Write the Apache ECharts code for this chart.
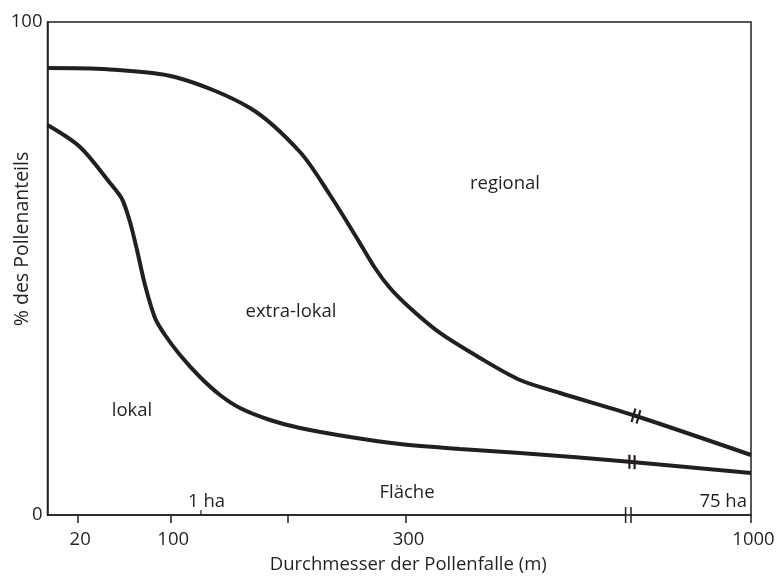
<!DOCTYPE html>
<html><head><meta charset="utf-8">
<script src="https://cdn.jsdelivr.net/npm/echarts@6/dist/echarts.min.js"></script>
<style>html,body{margin:0;padding:0;background:#fff}#c{width:783px;height:576px}</style>
</head><body><div id="c"></div>
<script>
const FONT = 'Open Sans';
const FS = 18.5;
const INK = '#231f20';
// x positions on a relative (non-linear) diameter axis; 0 = left edge
const upperX = [0, 60, 127.5, 202.5, 252.5, 282.5, 307.5, 327.5, 342.5, 362.5, 392.5, 432.5, 472.5, 512.5, 588.5, 703.5];
const upperY = [90.67, 90.4, 88.84, 82.56, 73.63, 64.91, 56.80, 50.10, 46.04, 41.99, 36.92, 31.85, 27.38, 24.75, 20.08, 12.17];
const lowerX = [0, 32.5, 62.5, 74.5, 82.5, 89.5, 97.5, 107.5, 117.5, 132.5, 152.5, 172.5, 192.5, 222.5, 252.5, 302.5, 352.5, 412.5, 472.5, 584.5, 703.5];
const lowerY = [79.1, 74.65, 67.34, 64.1, 59.43, 53.75, 46.65, 39.96, 36.51, 32.45, 27.99, 24.34, 21.70, 19.27, 17.65, 15.82, 14.40, 13.39, 12.58, 10.75, 8.52];
const xTickPos = [30.2, 123.2, 240.5, 358.5, 703.5];
const xTickLabels = ['20', '100', '', '300', '1000'];
const axisBreakX = 580.8;
const curveBreakX = [588.5, 584.5];
const curveBreakY = [20.08, 10.75];
const haTickX = 153.5;
const regionLabels = [
  {text: 'regional', x: 457.5, y: 67.2},
  {text: 'extra-lokal', x: 243.5, y: 41.2},
  {text: 'lokal', x: 84.5, y: 21.1}
];
const areaLabels = [
  {text: 'Fläche', x: 359.5, y: 4.5, align: 'center'},
  {text: '1 ha', x: 159, y: 2.7, align: 'center'},
  {text: '75 ha', x: 699.5, y: 2.6, align: 'right'}
];

const chart = echarts.init(document.getElementById('c'), null, {renderer: 'canvas'});
const toS = (xs, ys) => xs.map((x, i) => [x, ys[i]]);
const labelMap = {};
xTickPos.forEach((p, i) => labelMap[p] = xTickLabels[i]);

chart.setOption({
  animation: false,
  backgroundColor: '#fff',
  grid: {left: 47.5, right: 32, top: 22, bottom: 61, containLabel: false, outerBoundsMode: 'none',
         show: true, borderColor: INK, borderWidth: 1.5, backgroundColor: 'transparent'},
  xAxis: {
    type: 'value', min: 0, max: 703.5,
    splitLine: {show: false},
    axisLine: {lineStyle: {color: INK, width: 1.5}},
    axisTick: {show: true, length: 8, customValues: xTickPos, lineStyle: {color: INK, width: 1.5}},
    axisLabel: {customValues: xTickPos, formatter: v => labelMap[v] !== undefined ? labelMap[v] : '', margin: 15,
                padding: [0, 0, 0, 5], color: INK, fontFamily: FONT, fontSize: FS},
    name: 'Durchmesser der Pollenfalle (m)', nameLocation: 'middle', nameGap: 40,
    nameTextStyle: {color: INK, fontFamily: FONT, fontSize: FS, padding: [0, 0, 0, 18]}
  },
  yAxis: {
    type: 'value', min: 0, max: 100, interval: 100,
    splitLine: {show: false},
    axisLine: {show: true, lineStyle: {color: INK, width: 1.5}},
    axisTick: {show: false},
    axisLabel: {margin: 5, color: INK, fontFamily: FONT, fontSize: FS}
  },
  series: [
    {type: 'line', data: toS(upperX, upperY), smooth: 0.3, symbol: 'none', lineStyle: {color: INK, width: 4}},
    {type: 'line', data: toS(lowerX, lowerY), smooth: 0.3, symbol: 'none', lineStyle: {color: INK, width: 4}}
  ]
});

function px(x, y) { return chart.convertToPixel({gridIndex: 0}, [x, y]); }
const font = FS + 'px "' + FONT + '"';
const g = [];
regionLabels.forEach(l => {
  const p = px(l.x, l.y);
  g.push({type: 'text', x: p[0], y: p[1], style: {text: l.text, fill: INK, font: font, textAlign: 'center', textVerticalAlign: 'middle'}});
});
areaLabels.forEach(l => {
  const p = px(l.x, l.y);
  g.push({type: 'text', x: p[0], y: p[1], style: {text: l.text, fill: INK, font: font, textAlign: l.align, textVerticalAlign: 'middle'}});
});
// 1 ha inward tick
{
  const p = px(haTickX, 0);
  g.push({type: 'line', shape: {x1: p[0], y1: p[1], x2: p[0], y2: p[1] - 5}, style: {stroke: INK, lineWidth: 1.2}});
}
// axis break
{
  const p = px(axisBreakX, 0);
  g.push({type: 'rect', shape: {x: p[0] - 2.5, y: p[1] - 2, width: 5, height: 4}, style: {fill: '#fff'}});
  [-2.7, 2.7].forEach(d => g.push({type: 'line', shape: {x1: p[0] + d, y1: p[1] - 8, x2: p[0] + d, y2: p[1] + 8}, style: {stroke: INK, lineWidth: 1.5}}));
}
// curve breaks
curveBreakX.forEach((bx, i) => {
  const p = px(bx, curveBreakY[i]);
  const xs = i === 0 ? upperX : lowerX, ys = i === 0 ? upperY : lowerY;
  const k = xs.indexOf(bx);
  const a = px(xs[k - 1], ys[k - 1]), b = px(xs[k + 1], ys[k + 1]);
  let dx = b[0] - a[0], dy = b[1] - a[1];
  const L = Math.hypot(dx, dy); dx /= L; dy /= L;
  const gap = 2.6;
  g.push({type: 'line', shape: {x1: p[0] - dx * gap, y1: p[1] - dy * gap, x2: p[0] + dx * gap, y2: p[1] + dy * gap}, style: {stroke: '#fff', lineWidth: 7}});
  const tilt = i === 0 ? 0.28 : 0;
  const mx = Math.sin(tilt), my = -Math.cos(tilt);
  [-gap, gap].forEach(s => {
    const cx = p[0] + dx * s, cy = p[1] + dy * s;
    g.push({type: 'line', shape: {x1: cx - mx * 7, y1: cy - my * 7, x2: cx + mx * 7, y2: cy + my * 7}, style: {stroke: INK, lineWidth: 2.2}});
  });
});
// y axis title
g.push({type: 'text', x: 22, y: 239, rotation: Math.PI / 2, style: {text: '% des Pollenanteils', fill: INK, font: '19.5px "' + FONT + '"', textAlign: 'center', textVerticalAlign: 'middle'}});
chart.setOption({graphic: g});
</script>
</body></html>
